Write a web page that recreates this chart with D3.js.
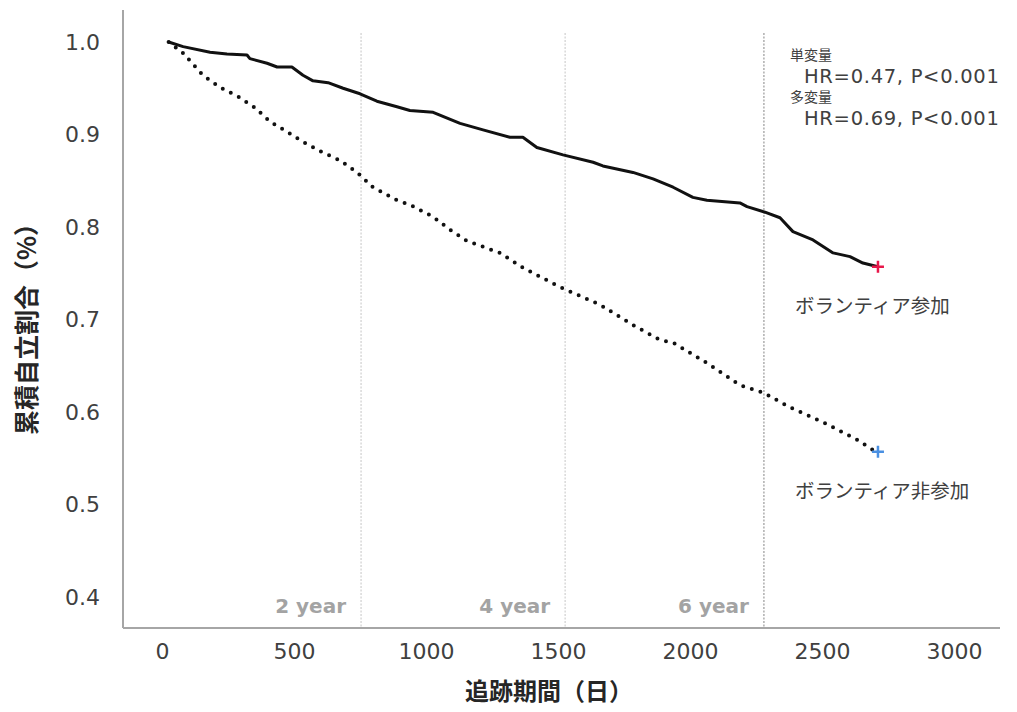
<!DOCTYPE html>
<html>
<head>
<meta charset="utf-8">
<script src="https://cdn.jsdelivr.net/npm/d3@7"></script>
<style>
  body { margin: 0; background: #fff; }
  svg { display: block; }
</style>
</head>
<body>
<svg id="chart" width="1017" height="712"></svg>
<script>
// follow-up days and cumulative independence
var joinDays = [25, 80, 182, 246, 322, 333, 398, 436, 492, 534, 572, 629, 686, 750, 814, 890, 939,
    1027, 1129, 1216, 1318, 1367, 1420, 1519, 1633, 1670, 1784, 1860, 1936, 2011, 2064, 2189,
    2216, 2284, 2341, 2390, 2466, 2542, 2606, 2655, 2712];
var joinRate = [1.0, 0.995, 0.989, 0.987, 0.986, 0.982, 0.977, 0.973, 0.973, 0.964, 0.958, 0.956,
    0.950, 0.944, 0.936, 0.930, 0.926, 0.924, 0.912, 0.905, 0.897, 0.897, 0.886, 0.878, 0.870,
    0.866, 0.859, 0.852, 0.843, 0.832, 0.829, 0.826, 0.822, 0.816, 0.810, 0.795, 0.786, 0.772,
    0.768, 0.761, 0.757];

var nonJoinDays = [25, 80, 155, 220, 288, 352, 409, 473, 534, 606, 674, 739, 799, 890, 939, 1027,
    1091, 1155, 1280, 1367, 1508, 1659, 1784, 1886, 1936, 2064, 2189, 2277, 2379, 2504, 2633,
    2693, 2712];
var nonJoinRate = [1.0, 0.988, 0.964, 0.951, 0.941, 0.929, 0.914, 0.903, 0.892, 0.881, 0.872,
    0.859, 0.843, 0.829, 0.824, 0.811, 0.797, 0.785, 0.772, 0.756, 0.735, 0.716, 0.694, 0.678,
    0.675, 0.653, 0.629, 0.621, 0.605, 0.589, 0.570, 0.559, 0.557];

var xTicks = [0, 500, 1000, 1500, 2000, 2500, 3000];
var yTicks = [0.4, 0.5, 0.6, 0.7, 0.8, 0.9, 1.0];

var yearDays = [754, 1527, 2280];
var yearLabels = ["2 year", "4 year", "6 year"];
var yearColors = ["#cfcfcf", "#cfcfcf", "#9a9a9a"];

var groupNames = ["ボランティア参加", "ボランティア非参加"];
var statLines = ["単変量", "HR=0.47, P<0.001", "多変量", "HR=0.69, P<0.001"];

var svg = d3.select("#chart");

var x = d3.scaleLinear().domain([0, 3000]).range([162, 954]);
var y = d3.scaleLinear().domain([0.4, 1.0]).range([597, 42]);

var axisY0 = 628, axisX0 = 123;

// year guide lines
yearDays.forEach(function(d, i) {
    svg.append("line")
        .attr("x1", x(d)).attr("x2", x(d))
        .attr("y1", 33).attr("y2", axisY0)
        .attr("stroke", yearColors[i])
        .attr("stroke-width", 1.2)
        .attr("stroke-dasharray", "2,1.5");
    svg.append("text")
        .attr("x", x(d) - 15)
        .attr("y", 606)
        .attr("dy", "0.35em")
        .attr("text-anchor", "end")
        .attr("font-family", "DejaVu Sans, sans-serif")
        .attr("font-weight", "bold")
        .attr("font-size", "20px")
        .attr("fill", "#a3a3a3")
        .text(yearLabels[i]);
});

// frame lines
svg.append("line")
    .attr("x1", axisX0).attr("x2", axisX0)
    .attr("y1", 10).attr("y2", axisY0)
    .attr("stroke", "#a6a6a6").attr("stroke-width", 2);
svg.append("line")
    .attr("x1", axisX0).attr("x2", 1000)
    .attr("y1", axisY0).attr("y2", axisY0)
    .attr("stroke", "#a6a6a6").attr("stroke-width", 2);

// axes
var xAxis = svg.append("g")
    .attr("transform", "translate(0," + axisY0 + ")")
    .call(d3.axisBottom(x).tickValues(xTicks).tickSize(0).tickPadding(15).tickFormat(d3.format("d")));
var yAxis = svg.append("g")
    .attr("transform", "translate(" + axisX0 + ",0)")
    .call(d3.axisLeft(y).tickValues(yTicks).tickSize(0).tickPadding(23).tickFormat(d3.format(".1f")));

[xAxis, yAxis].forEach(function(a) {
    a.select(".domain").remove();
    a.selectAll("text")
        .attr("font-family", "DejaVu Sans, sans-serif")
        .attr("font-size", "22px")
        .attr("fill", "#404040");
});

// axis titles
svg.append("text")
    .attr("x", 549)
    .attr("y", 692)
    .attr("dy", "0.35em")
    .attr("text-anchor", "middle")
    .attr("font-family", "Noto Sans CJK JP, sans-serif")
    .attr("font-weight", "bold")
    .attr("font-size", "24px")
    .attr("fill", "#262626")
    .text("追跡期間（日）");

svg.append("text")
    .attr("transform", "translate(27,323) rotate(-90)")
    .attr("dy", "0.35em")
    .attr("text-anchor", "middle")
    .attr("font-family", "Noto Sans CJK JP, sans-serif")
    .attr("font-weight", "bold")
    .attr("font-size", "25px")
    .attr("fill", "#262626")
    .text("累積自立割合（%）");

// curves
var line = d3.line()
    .x(function(d) { return x(d[0]); })
    .y(function(d) { return y(d[1]); });

var joinData = d3.zip(joinDays, joinRate);
var nonJoinData = d3.zip(nonJoinDays, nonJoinRate);

svg.append("path")
    .datum(nonJoinData)
    .attr("d", line)
    .attr("fill", "none")
    .attr("stroke", "#111")
    .attr("stroke-width", 4)
    .attr("stroke-linecap", "round")
    .attr("stroke-dasharray", "0,9");

svg.append("path")
    .datum(joinData)
    .attr("d", line)
    .attr("fill", "none")
    .attr("stroke", "#111")
    .attr("stroke-width", 3)
    .attr("stroke-linejoin", "round");

// censor crosses at the end of each curve
var ends = [
    { p: joinData[joinData.length - 1], color: "#e8174a" },
    { p: nonJoinData[nonJoinData.length - 1], color: "#4a90e2" }
];
svg.selectAll(".endmark")
    .data(ends)
    .enter()
    .append("path")
    .attr("class", "endmark")
    .attr("transform", function(d) { return "translate(" + x(d.p[0]) + "," + y(d.p[1]) + ")"; })
    .attr("d", "M-6,0H6M0,-6V6")
    .attr("stroke", function(d) { return d.color; })
    .attr("stroke-width", 2.5)
    .attr("fill", "none");

// group labels under the end of each curve
svg.selectAll(".grp")
    .data(ends)
    .enter()
    .append("text")
    .attr("class", "grp")
    .attr("x", 795)
    .attr("y", function(d) { return y(d.p[1]) + 39; })
    .attr("dy", "0.35em")
    .attr("font-family", "Noto Sans CJK JP, sans-serif")
    .attr("font-size", "19.5px")
    .attr("fill", "#404040")
    .text(function(d, i) { return groupNames[i]; });

// hazard ratio note
svg.selectAll(".stat")
    .data(statLines)
    .enter()
    .append("text")
    .attr("class", "stat")
    .attr("x", function(d, i) { return i % 2 == 0 ? 790 : 804; })
    .attr("y", function(d, i) { return 55 + i * 21; })
    .attr("dy", "0.35em")
    .attr("font-family", function(d, i) {
        return i % 2 == 0 ? "Noto Sans CJK JP, sans-serif" : "DejaVu Sans, sans-serif";
    })
    .attr("font-size", function(d, i) { return i % 2 == 0 ? "14px" : "19.5px"; })
    .attr("letter-spacing", function(d, i) { return i % 2 == 0 ? "0px" : "0.7px"; })
    .attr("fill", "#404040")
    .text(function(d) { return d; });
</script>
</body>
</html>
